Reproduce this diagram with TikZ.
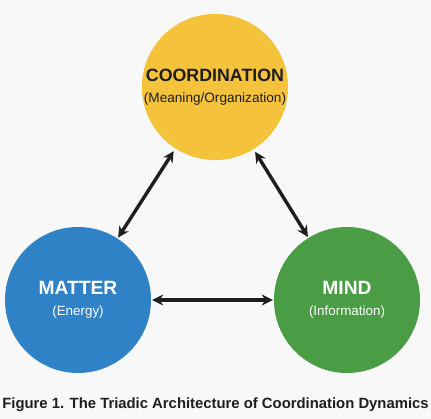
\documentclass[tikz,border=0pt]{standalone}
\usepackage{fontspec}
\setmainfont{Liberation Sans}
\usepackage{tikz}
\usetikzlibrary{arrows.meta}

\definecolor{coordyellow}{HTML}{F4C23B}
\definecolor{matterblue}{HTML}{2F82C6}
\definecolor{mindgreen}{HTML}{4A9D44}
\definecolor{paper}{HTML}{F8F8F8}
\definecolor{inkdark}{HTML}{1E1E1E}

\begin{document}
\begin{tikzpicture}[x=1pt, y=-1pt,
Pillar/.style={circle, minimum size=146pt, inner sep=0pt, align=center},
Link/.style={{Stealth[length=11pt,width=11pt]}-{Stealth[length=11pt,width=11pt]}, line width=3.4pt, color=inkdark, shorten <=1pt, shorten >=1pt}]

\useasboundingbox[fill=paper] (0,0) rectangle (431,419);

\node[Pillar, fill=coordyellow, text=inkdark] (coord) at (215,87) {{\fontsize{17.8}{19}\selectfont\bfseries COORDINATION}\\[9pt]{\fontsize{13.6}{15}\selectfont (Meaning/Organization)}};
\node[Pillar, fill=matterblue, text=white] (matter) at (78,300) {{\fontsize{19.2}{20}\selectfont\bfseries MATTER}\\[9pt]{\fontsize{13.4}{15}\selectfont (Energy)}};
\node[Pillar, fill=mindgreen, text=white] (mind) at (347,300) {{\fontsize{19.2}{20}\selectfont\bfseries MIND}\\[9pt]{\fontsize{13.4}{15}\selectfont (Information)}};

\draw[Link, shorten <=3pt] (coord) -- (matter);
\draw[Link, shorten <=3pt] (coord) -- (mind);
\draw[Link] (matter) -- (mind);

\node[text=inkdark, font=\bfseries\fontsize{14.85}{16}\selectfont] (caption) at (215.5,405) {Figure 1. The Triadic Architecture of Coordination Dynamics};

\end{tikzpicture}
\end{document}
